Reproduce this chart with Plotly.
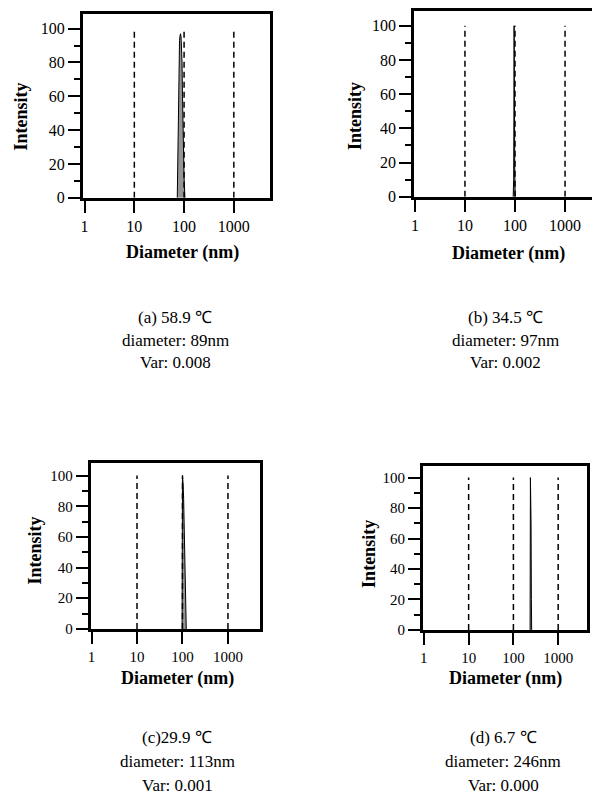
import plotly.graph_objects as go

# ---------------- data ----------------
tick_vals = [1, 10, 100, 1000]
tick_text = ["1", "10", "100", "1000"]
y_tick_vals = [0, 20, 40, 60, 80, 100]
y_minor_vals = [10, 30, 50, 70, 90]
ref_lines = [10, 100, 1000]

diam_a = [73, 75, 77, 79, 81, 83, 85, 87, 89, 91, 93, 96, 100, 104]
int_a = [0, 25, 60, 85, 93, 96, 97, 95, 90, 80, 60, 30, 12, 0]

diam_b = [92, 94, 95, 96, 97, 98, 99, 101]
int_b = [0, 10, 45, 100, 98, 42, 15, 0]

diam_c = [98, 100, 103, 106, 109, 112, 115, 118, 121]
int_c = [0, 100, 95, 85, 70, 50, 30, 10, 0]

diam_d = [236, 240, 244, 248, 252, 256]
int_d = [0, 100, 98, 70, 20, 0]

captions_a = ["(a) 58.9 ℃", "diameter: 89nm", "Var: 0.008"]
captions_b = ["(b) 34.5 ℃", "diameter: 97nm", "Var: 0.002"]
captions_c = ["(c)29.9 ℃", "diameter: 113nm", "Var: 0.001"]
captions_d = ["(d) 6.7 ℃", "diameter: 246nm", "Var: 0.000"]

# ---------------- layout geometry (pixels) ----------------
W, H = 592, 806
def px(x):
    return x / W
def py(y):
    return 1 - y / H

panels = [
    dict(d=diam_a, v=int_a, cap=captions_a, left=80, right=268, top=14, zero=200, y100=29,
         x1=82, dec=50.0, mirror_y=True, ytitle=(18, 118), xtitle=(180, 255),
         capx=173, capy=[321, 344, 367], tickfs=16),
    dict(d=diam_b, v=int_b, cap=captions_b, left=413, right=592, top=11, zero=199, y100=26,
         x1=414, dec=50.3, mirror_y=False, ytitle=(353, 117), xtitle=(508, 256),
         capx=505, capy=[321, 344, 367], tickfs=16),
    dict(d=diam_c, v=int_c, cap=captions_c, left=88, right=258, top=468, zero=636, y100=481,
         x1=89, dec=45.7, mirror_y=True, ytitle=(32, 557), xtitle=(175, 686),
         capx=175, capy=[746, 770, 794], tickfs=15),
    dict(d=diam_d, v=int_d, cap=captions_d, left=422, right=587, top=471, zero=637, y100=483,
         x1=423, dec=45.0, mirror_y=True, ytitle=(368, 560), xtitle=(505, 686),
         capx=503, capy=[746, 770, 794], tickfs=15),
]

FONT = "Liberation Serif, Times New Roman, serif"
fig = go.Figure()
layout = dict(
    width=W, height=H, margin=dict(l=0, r=0, t=0, b=0),
    paper_bgcolor="white", plot_bgcolor="white", showlegend=False,
    font=dict(family=FONT, color="black"),
)
annotations = []

for i, p in enumerate(panels):
    n = "" if i == 0 else str(i + 1)
    xa, ya = "x" + n, "y" + n
    # distribution
    fig.add_trace(go.Scatter(x=p["d"], y=p["v"], xaxis=xa, yaxis=ya, mode="lines",
                             fill="tozeroy", fillcolor="rgba(130,130,130,0.85)",
                             line=dict(color="black", width=1), hoverinfo="skip"))
    # dashed reference lines
    for r in ref_lines:
        fig.add_trace(go.Scatter(x=[r, r], y=[0, 100], xaxis=xa, yaxis=ya, mode="lines",
                                 line=dict(color="black", width=1.5, dash="6px,4px"),
                                 hoverinfo="skip"))
    xr = [(p["left"] - p["x1"]) / p["dec"], (p["right"] - p["x1"]) / p["dec"]]
    ymax = 100 * (p["zero"] - p["top"]) / (p["zero"] - p["y100"])
    layout["xaxis" + n] = dict(
        type="log", range=xr, domain=[px(p["left"]), px(p["right"])], anchor=ya,
        showline=True, linewidth=2.5, linecolor="black", mirror=True,
        ticks="outside", ticklen=12, tickwidth=2, tickcolor="black",
        tickvals=tick_vals, ticktext=tick_text, showgrid=False, zeroline=False,
        tickfont=dict(family=FONT, size=p["tickfs"], color="black"),
    )
    layout["yaxis" + n] = dict(
        range=[0, ymax], domain=[py(p["zero"]), py(p["top"])], anchor=xa,
        showline=True, linewidth=2.5, linecolor="black", mirror=p["mirror_y"],
        ticks="outside", ticklen=12, tickwidth=2, tickcolor="black",
        tickvals=y_tick_vals, showgrid=False, zeroline=False,
        minor=dict(tickvals=y_minor_vals, ticks="outside", ticklen=6,
                   tickwidth=2, tickcolor="black", showgrid=False),
        tickfont=dict(family=FONT, size=p["tickfs"], color="black"),
    )
    annotations.append(dict(x=px(p["ytitle"][0]), y=py(p["ytitle"][1]), xref="paper",
                            yref="paper", text="<b>Intensity</b>", textangle=-90,
                            xanchor="center", yanchor="middle",
                            showarrow=False, font=dict(family=FONT, size=18)))
    annotations.append(dict(x=px(p["xtitle"][0]), y=py(p["xtitle"][1]), xref="paper",
                            yref="paper", text="<b>Diameter (nm)</b>",
                            xanchor="center", yanchor="middle",
                            showarrow=False, font=dict(family=FONT, size=18)))
    for t, cy in zip(p["cap"], p["capy"]):
        annotations.append(dict(x=px(p["capx"]), y=py(cy), xref="paper", yref="paper",
                                text=t, showarrow=False, xanchor="center", yanchor="middle",
                                font=dict(family=FONT, size=17)))

layout["annotations"] = annotations
fig.update_layout(**layout)
fig.write_html("out.html", config={"displayModeBar": False},
               post_script="document.body.style.margin='0';document.body.style.overflow='hidden';")
